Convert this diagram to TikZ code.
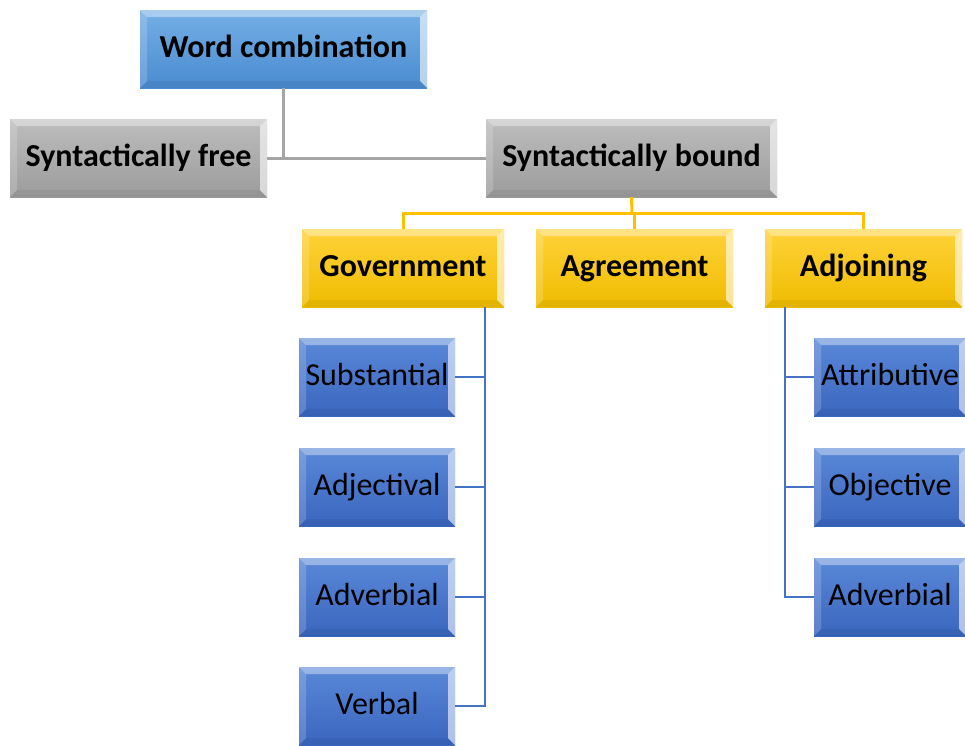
\documentclass[tikz,border=0pt]{standalone}
\usepackage{fontspec}
\setmainfont{Carlito}
\usetikzlibrary{calc}
\definecolor{wcTop}{HTML}{74AFE6}
\definecolor{wcBot}{HTML}{4A8BD0}
\definecolor{grTop}{HTML}{BDBDBD}
\definecolor{grBot}{HTML}{9C9C9C}
\definecolor{ylTop}{HTML}{FFD23A}
\definecolor{ylBot}{HTML}{EFBC00}
\definecolor{blTop}{HTML}{5A88D8}
\definecolor{blBot}{HTML}{3A66BE}
\definecolor{lnGray}{HTML}{A5A5A5}
\definecolor{lnYel}{HTML}{FFC000}
\definecolor{lnBlue}{HTML}{4472C4}
\tikzset{
  bevelbox/.style={rectangle, inner sep=0pt, text=black, align=center,
    text height=20pt, text depth=4pt,
    path picture={
      \coordinate (nw) at (path picture bounding box.north west);
      \coordinate (ne) at (path picture bounding box.north east);
      \coordinate (sw) at (path picture bounding box.south west);
      \coordinate (se) at (path picture bounding box.south east);
      \fill[white,opacity=0.38] (nw) -- (ne) -- ($(ne)+(-7pt,-7pt)$) -- ($(nw)+(7pt,-7pt)$) -- cycle;
      \fill[white,opacity=0.18] (nw) -- ($(nw)+(7pt,-7pt)$) -- ($(sw)+(7pt,7pt)$) -- (sw) -- cycle;
      \fill[white,opacity=0.6] (ne) -- ($(ne)+(-7pt,-7pt)$) -- ($(se)+(-7pt,7pt)$) -- (se) -- cycle;
      \fill[black,opacity=0.05] (sw) -- ($(sw)+(7pt,7pt)$) -- ($(se)+(-7pt,7pt)$) -- (se) -- cycle;
    }},
  wcbox/.style={bevelbox, top color=wcTop, bottom color=wcBot, minimum width=287pt, minimum height=78pt,
    font=\fontsize{32}{38}\selectfont\bfseries},
  graybox/.style={bevelbox, top color=grTop, bottom color=grBot, minimum height=78pt,
    font=\fontsize{32}{38}\selectfont\bfseries},
  yelbox/.style={bevelbox, top color=ylTop, bottom color=ylBot, minimum height=78pt,
    font=\fontsize{32}{38}\selectfont\bfseries},
  bluebox/.style={bevelbox, top color=blTop, bottom color=blBot, minimum height=78pt,
    font=\fontsize{32}{38}\selectfont},
  grayline/.style={draw=lnGray, line width=3pt},
  yelline/.style={draw=lnYel, line width=3pt},
  blueline/.style={draw=lnBlue, line width=2.6pt},
}
\begin{document}
\begin{tikzpicture}[x=1pt,y=-1pt]
\useasboundingbox (0,0) rectangle (965,745);
\node[wcbox] (wc) at (283.5,49) {Word combination};
\node[graybox, minimum width=257pt] (sf) at (138.5,158) {Syntactically free};
\node[graybox, minimum width=291pt] (sb) at (631.5,158) {Syntactically bound};
\node[yelbox, minimum width=202pt] (gov) at (403,268) {Government};
\node[yelbox, minimum width=197pt] (agr) at (634.5,268) {Agreement};
\node[yelbox, minimum width=197pt] (adj) at (863.5,268) {Adjoining};
\node[bluebox, minimum width=156pt] (sub) at (377,377) {Substantial};
\node[bluebox, minimum width=156pt] (adjl) at (377,487) {Adjectival};
\node[bluebox, minimum width=156pt] (advl) at (377,597) {Adverbial};
\node[bluebox, minimum width=156pt] (verb) at (377,706) {Verbal};
\node[bluebox, minimum width=152pt] (attr) at (890,377) {Attributive};
\node[bluebox, minimum width=152pt] (obj) at (890,487) {Objective};
\node[bluebox, minimum width=152pt] (advr) at (890,597) {Adverbial};
\coordinate (yb) at (632,213);
\coordinate (gtop) at (485,307);
\coordinate (atop) at (785,307);
% gray
\draw[grayline] (wc.south) -- (wc.south |- sf.east);
\draw[grayline] (sf.east) -- (sb.west);
% yellow
\draw[yelline] (sb.south) -- (yb);
\draw[yelline] (gov.north) |- (yb) -| (adj.north);
\draw[yelline] (agr.north) -- (agr.north |- yb);
% blue left
\draw[blueline] (gtop) |- (verb.east);
\draw[blueline] (sub.east) -- (sub.east -| gtop);
\draw[blueline] (adjl.east) -- (adjl.east -| gtop);
\draw[blueline] (advl.east) -- (advl.east -| gtop);
% blue right
\draw[blueline] (atop) |- (advr.west);
\draw[blueline] (attr.west) -- (attr.west -| atop);
\draw[blueline] (obj.west) -- (obj.west -| atop);
\end{tikzpicture}
\end{document}
